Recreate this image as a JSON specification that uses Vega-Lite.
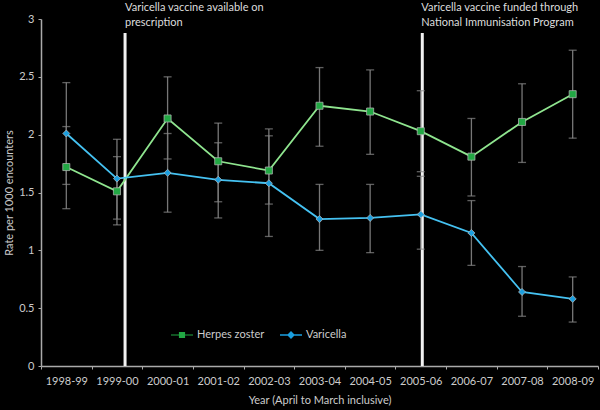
{
  "$schema": "https://vega.github.io/schema/vega-lite/v6.json",
  "autosize": {"type": "none"},
  "padding": {"left": 41, "top": 19, "right": 2, "bottom": 44},
  "width": 557,
  "height": 347,
  "background": "#000000",
  "datasets": {
    "main": [
      {"year": "1998-99", "series": "Herpes zoster", "rate": 1.72, "lo": 1.36, "hi": 2.07},
      {"year": "1999-00", "series": "Herpes zoster", "rate": 1.51, "lo": 1.22, "hi": 1.81},
      {"year": "2000-01", "series": "Herpes zoster", "rate": 2.14, "lo": 1.79, "hi": 2.50},
      {"year": "2001-02", "series": "Herpes zoster", "rate": 1.77, "lo": 1.42, "hi": 2.10},
      {"year": "2002-03", "series": "Herpes zoster", "rate": 1.69, "lo": 1.40, "hi": 2.05},
      {"year": "2003-04", "series": "Herpes zoster", "rate": 2.25, "lo": 1.90, "hi": 2.58},
      {"year": "2004-05", "series": "Herpes zoster", "rate": 2.20, "lo": 1.83, "hi": 2.56},
      {"year": "2005-06", "series": "Herpes zoster", "rate": 2.03, "lo": 1.68, "hi": 2.38},
      {"year": "2006-07", "series": "Herpes zoster", "rate": 1.81, "lo": 1.47, "hi": 2.14},
      {"year": "2007-08", "series": "Herpes zoster", "rate": 2.11, "lo": 1.76, "hi": 2.44},
      {"year": "2008-09", "series": "Herpes zoster", "rate": 2.35, "lo": 1.97, "hi": 2.73},
      {"year": "1998-99", "series": "Varicella", "rate": 2.01, "lo": 1.57, "hi": 2.45},
      {"year": "1999-00", "series": "Varicella", "rate": 1.62, "lo": 1.27, "hi": 1.96},
      {"year": "2000-01", "series": "Varicella", "rate": 1.67, "lo": 1.33, "hi": 2.01},
      {"year": "2001-02", "series": "Varicella", "rate": 1.61, "lo": 1.28, "hi": 1.93},
      {"year": "2002-03", "series": "Varicella", "rate": 1.58, "lo": 1.12, "hi": 1.99},
      {"year": "2003-04", "series": "Varicella", "rate": 1.27, "lo": 1.00, "hi": 1.57},
      {"year": "2004-05", "series": "Varicella", "rate": 1.28, "lo": 0.98, "hi": 1.57},
      {"year": "2005-06", "series": "Varicella", "rate": 1.31, "lo": 1.01, "hi": 1.64},
      {"year": "2006-07", "series": "Varicella", "rate": 1.15, "lo": 0.87, "hi": 1.43},
      {"year": "2007-08", "series": "Varicella", "rate": 0.64, "lo": 0.43, "hi": 0.86},
      {"year": "2008-09", "series": "Varicella", "rate": 0.58, "lo": 0.38, "hi": 0.77}
    ],
    "event1": [{"year": "1999-00", "label": "Varicella vaccine available on\nprescription"}],
    "event2": [{"year": "2005-06", "label": "Varicella vaccine funded through\nNational Immunisation Program"}]
  },
  "encoding": {
    "x": {
      "field": "year", "type": "nominal",
      "scale": {"type": "band", "paddingInner": 0, "paddingOuter": 0},
      "axis": {"title": "Year (April to March inclusive)", "labelAngle": 0, "tickBand": "extent", "tickSize": 3, "labelPadding": 6, "titlePadding": 8}
    }
  },
  "resolve": {"scale": {"shape": "independent", "color": "independent"}},
  "layer": [
    {
      "data": {"name": "event1"},
      "mark": {"type": "rule", "color": "#f2f2f2", "strokeWidth": 3},
      "encoding": {
        "x": {"field": "year", "type": "nominal", "bandPosition": 0.66},
        "y": {"datum": 2.88, "type": "quantitative"},
        "y2": {"datum": 0}
      }
    },
    {
      "data": {"name": "event2"},
      "mark": {"type": "rule", "color": "#f2f2f2", "strokeWidth": 3},
      "encoding": {
        "x": {"field": "year", "type": "nominal", "bandPosition": 0.53},
        "y": {"datum": 2.88, "type": "quantitative"},
        "y2": {"datum": 0}
      }
    },
    {
      "data": {"name": "main"},
      "mark": {"type": "rule", "color": "#777777", "strokeWidth": 1.3},
      "encoding": {
        "y": {"field": "lo", "type": "quantitative"},
        "y2": {"field": "hi"}
      }
    },
    {
      "data": {"name": "main"},
      "mark": {"type": "tick", "color": "#888888", "size": 8, "thickness": 1.3},
      "encoding": {"y": {"field": "lo", "type": "quantitative"}}
    },
    {
      "data": {"name": "main"},
      "mark": {"type": "tick", "color": "#888888", "size": 8, "thickness": 1.3},
      "encoding": {"y": {"field": "hi", "type": "quantitative"}}
    },
    {
      "data": {"name": "main"},
      "mark": {"type": "line", "strokeWidth": 1.8},
      "encoding": {
        "y": {"field": "rate", "type": "quantitative"},
        "stroke": {
          "field": "series", "type": "nominal", "title": null,
          "scale": {"domain": ["Varicella", "Herpes zoster"], "range": ["#45c2f2", "#8fe58f"]},
          "legend": null
        }
      }
    },
    {
      "data": {"name": "main"},
      "mark": {"type": "point", "filled": true, "size": 50, "stroke": "#bbbbbb", "strokeWidth": 0.7, "opacity": 1},
      "encoding": {
        "y": {
          "field": "rate", "type": "quantitative",
          "scale": {"domain": [0, 3]},
          "axis": {"title": "Rate per 1000 encounters", "values": [0, 0.5, 1, 1.5, 2, 2.5, 3], "format": "~g", "tickSize": 3, "labelPadding": 4, "titlePadding": 4}
        },
        "shape": {
          "field": "series", "type": "nominal", "title": null,
          "scale": {"domain": ["Varicella", "Herpes zoster"], "range": ["diamond", "square"]},
          "legend": null
        },
        "fill": {
          "field": "series", "type": "nominal", "title": null,
          "scale": {"domain": ["Varicella", "Herpes zoster"], "range": ["#1b9fdf", "#22a844"]},
          "legend": null
        }
      }
    },
    {
      "data": {"values": []},
      "mark": {"type": "point", "filled": true, "opacity": 1, "strokeWidth": 0},
      "encoding": {
        "shape": {
          "field": "series", "type": "nominal", "title": null,
          "scale": {"domain": ["Herpes zoster", "Varicella"], "range": ["M-1,-0.05H1V0.05H-1Z M-0.28,-0.28H0.28V0.28H-0.28Z", "M-1,-0.06H1V0.06H-1Z M0,-0.36L0.36,0L0,0.36L-0.36,0Z"]}
        },
        "color": {
          "field": "series", "type": "nominal", "title": null,
          "scale": {"domain": ["Herpes zoster", "Varicella"], "range": ["#22a844", "#1b9fdf"]}
        }
      }
    },
    {
      "data": {"name": "event1"},
      "mark": {"type": "text", "align": "left", "baseline": "top", "lineBreak": "\n", "lineHeight": 15, "fontSize": 11, "font": "Lato", "color": "#dddddd", "dx": 0},
      "encoding": {
        "x": {"field": "year", "type": "nominal", "bandPosition": 0.66},
        "y": {"datum": 3.15, "type": "quantitative"},
        "text": {"field": "label"}
      }
    },
    {
      "data": {"name": "event2"},
      "mark": {"type": "text", "align": "left", "baseline": "top", "lineBreak": "\n", "lineHeight": 15, "fontSize": 11, "font": "Lato", "color": "#dddddd", "dx": -1},
      "encoding": {
        "x": {"field": "year", "type": "nominal", "bandPosition": 0.53},
        "y": {"datum": 3.15, "type": "quantitative"},
        "text": {"field": "label"}
      }
    }
  ],
  "config": {
    "view": {"stroke": null},
    "font": "Lato",
    "legend": {
      "orient": "none",
      "legendX": 130,
      "legendY": 305,
      "direction": "horizontal",
      "padding": 0,
      "symbolSize": 484,
      "symbolStrokeWidth": 0,
      "labelOffset": 4,
      "columnPadding": 15,
      "labelFontSize": 11,
      "labelFontWeight": "normal",
      "labelColor": "#cccccc",
      "labelFont": "Lato"
    },
    "axis": {
      "grid": false,
      "labelFont": "Lato",
      "labelFontSize": 11,
      "labelColor": "#cccccc",
      "titleFont": "Lato",
      "titleFontSize": 11,
      "titleFontWeight": "normal",
      "titleColor": "#cccccc",
      "domainColor": "#aaaaaa",
      "domainWidth": 1.5,
      "tickColor": "#aaaaaa"
    }
  }
}
